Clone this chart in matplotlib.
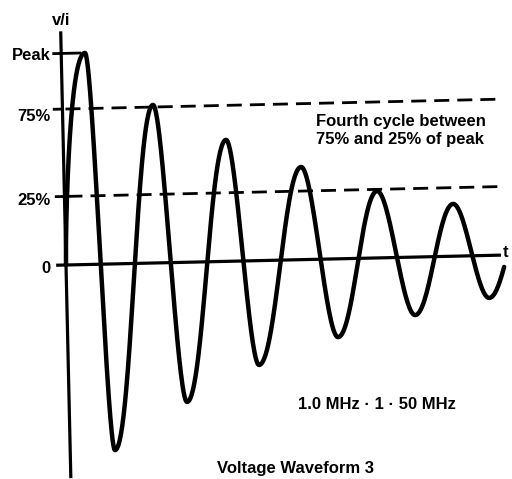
import numpy as np
import matplotlib
matplotlib.use('Agg')
from matplotlib import pyplot as plt
from matplotlib.transforms import Affine2D

# extrema of the ringing wave (time in us, value as fraction of peak)
ext_t = [0.317, 0.597, 1.208, 1.572, 2.171, 2.543, 3.163, 3.605, 4.169, 4.639, 5.179, 5.631]
ext_v = [1.0, -0.88, 0.747, -0.66, 0.574, -0.493, 0.438, -0.37, 0.316, -0.274, 0.247, -0.201]
t_end, v_end = 5.84, -0.056
rise_shape = 0.7   # first edge hugs the axis before bending over

# levels marked on the vertical axis (as drawn) and their labels
lev_pos = [1.0, 0.737, 0.324, 0.0]
lev_lab = ['Peak', '75%', '25%', '0']
lab_base_px = [60, 121, 205, 273]   # baseline of each label in the picture

# build the curve from the read extrema, half cosine between neighbours
t0 = np.linspace(0, ext_t[0], 60)
tt = [t0]
vv = [ext_v[0] * np.sin(np.pi / 2 * (t0 / ext_t[0]) ** rise_shape)]
for i in range(len(ext_t) - 1):
    a, b = ext_v[i], ext_v[i + 1]
    u = np.linspace(0, 1, 60)
    tt.append(ext_t[i] + u * (ext_t[i + 1] - ext_t[i]))
    vv.append((a + b) / 2 + (a - b) / 2 * np.cos(np.pi * u))
half = np.pi * (t_end - ext_t[-1]) / np.arccos(v_end / ext_v[-1])
t_last = np.linspace(ext_t[-1], t_end, 30)
tt.append(t_last)
vv.append(ext_v[-1] * np.cos(np.pi * (t_last - ext_t[-1]) / half))
t = np.concatenate(tt)
v = np.concatenate(vv)

W, H = 512, 479
fig = plt.figure(figsize=(W / 100, H / 100), dpi=100)
ax = fig.add_axes([0, 0, 1, 1])
ax.set_xlim(-66 / 75, (W - 66) / 75)
ax.set_ylim(-214 / 211.6, 265 / 211.6)
ax.axis('off')

# the scan is turned a little, rotate everything about the origin
tr = ax.transData + Affine2D().rotate_deg_around(66, 214, 1.3)

ax.plot(t, v, color='black', lw=3.2, transform=tr, clip_on=False,
        solid_capstyle='round', solid_joinstyle='round')

# axes
ax.plot([0, 0], [-1.0, 1.097], color='black', lw=2.3, transform=tr, clip_on=False)
ax.plot([-0.11, 5.78], [0, 0], color='black', lw=2.3, transform=tr, clip_on=False)

# level ticks and dashed guide lines
ax.plot([-0.1, 0.25], [lev_pos[0], lev_pos[0]], color='black', lw=2.0, transform=tr, clip_on=False)
for lv in lev_pos[1:3]:
    ax.plot([-0.11, 0], [lv, lv], color='black', lw=2.0, transform=tr, clip_on=False)
    ax.plot([0.04, 5.86], [lv, lv], color='black', lw=2.0, linestyle=(0, (5.4, 2.9)),
            transform=tr, clip_on=False)

fnt = dict(family=['Liberation Sans', 'DejaVu Sans'], fontsize=12, fontweight='bold', color='black')

for lab, yb in zip(lev_lab, lab_base_px):
    fig.text(51 / W, 1 - yb / H, lab, ha='right', va='baseline', **fnt)

fig.text(52 / W, 1 - 25 / H, 'v/i', ha='left', va='baseline', **fnt)
fig.text(503 / W, 1 - 257 / H, 't', ha='left', va='baseline', **fnt)
fig.text(316 / W, 1 - 126 / H, 'Fourth cycle between', ha='left', va='baseline', **fnt)
fig.text(316 / W, 1 - 144 / H, '75% and 25% of peak', ha='left', va='baseline', **fnt)
fig.text(298 / W, 1 - 409 / H, '1.0 MHz \u00b7 1 \u00b7 50 MHz', ha='left', va='baseline', **fnt)
fig.text(217 / W, 1 - 473 / H, 'Voltage Waveform 3', ha='left', va='baseline', **fnt)

plt.savefig('out.png', dpi=100, facecolor='white')
